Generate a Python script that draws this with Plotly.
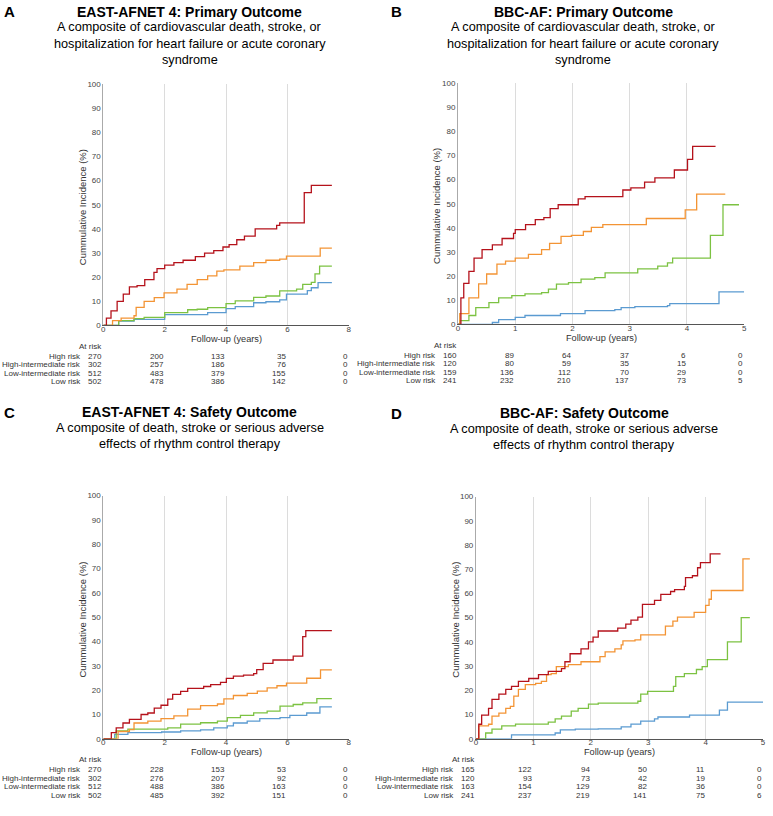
import plotly.graph_objects as go

W, H = 773, 816
FONT = "Liberation Sans, Arial, sans-serif"

RED, ORANGE, GREEN, BLUE = "#b5121b", "#f39434", "#7cc242", "#5b9bd1"

# ---------------- Panel A: EAST-AFNET 4 primary outcome ----------------
A_high_t = [0, 0.1, 0.25, 0.45, 0.65, 0.85, 1.1, 1.35, 1.65, 1.75, 2.0, 2.3, 2.6, 3.0, 3.3, 3.6, 3.9, 4.1, 4.35, 4.6, 4.95, 5.5, 5.65, 5.75, 6.5, 6.55, 6.72, 6.78, 7.45]
A_high_v = [0, 3, 6, 10, 13, 16, 16.5, 19, 22, 23.5, 25, 26, 27, 28.5, 30, 31, 32.5, 33.5, 35.5, 37, 40, 40, 41.5, 42.5, 42.5, 55, 55, 58, 58]
A_hi_t = [0, 0.3, 0.58, 1.0, 1.07, 1.33, 1.66, 1.98, 2.4, 2.73, 3.06, 3.4, 3.7, 3.93, 4.3, 4.45, 4.9, 5.3, 5.75, 5.97, 7.05, 7.07, 7.45]
A_hi_v = [0, 2, 3, 4, 7.5, 10, 11.5, 13.5, 15, 17, 19, 20.5, 22.5, 23, 23, 24.6, 26, 27, 27.5, 28.7, 28.7, 32, 32]
A_li_t = [0, 0.5, 1.0, 1.33, 2.0, 2.75, 3.06, 3.4, 4.0, 4.3, 4.9, 5.3, 5.75, 6.3, 6.5, 6.78, 6.9, 7.05, 7.45]
A_li_v = [0, 2, 2.8, 3.3, 5.3, 6.5, 6.7, 7.4, 9, 10.2, 11.6, 12.2, 14.3, 15, 17, 17.8, 21.4, 24.6, 24.6]
A_low_t = [0, 0.5, 1.0, 2.0, 3.4, 4.0, 4.3, 4.9, 5.3, 5.75, 5.97, 6.5, 6.65, 6.78, 7.0, 7.45]
A_low_v = [0, 1.8, 2.5, 4.5, 5.3, 7, 7.8, 9.4, 9.8, 10.6, 13, 13, 14.4, 15.6, 17.7, 17.7]

# ---------------- Panel B: BBC-AF primary outcome ----------------
B_high_t = [0, 0.05, 0.1, 0.19, 0.28, 0.42, 0.6, 0.77, 0.97, 1.0, 1.18, 1.35, 1.5, 1.61, 1.75, 1.93, 2.1, 2.22, 2.71, 2.88, 3.02, 3.26, 3.44, 3.75, 3.78, 3.87, 4.01, 4.1, 4.5]
B_high_v = [0, 11, 17, 22, 27.5, 31, 33, 35.6, 37.7, 39.3, 41.4, 43.4, 44.3, 48, 49.6, 49.6, 52, 53, 53, 55.7, 56.6, 59, 60.7, 60.7, 64, 64, 68.4, 73.8, 73.8]
B_hi_t = [0, 0.03, 0.19, 0.36, 0.5, 0.62, 0.68, 0.83, 1.0, 1.23, 1.46, 1.6, 1.8, 1.98, 2.12, 2.19, 2.33, 2.53, 3.26, 3.29, 3.89, 3.97, 4.13, 4.17, 4.67]
B_hi_v = [0, 4.5, 11, 16.8, 20.9, 20.9, 25, 26.2, 27.5, 29, 31, 33.6, 36.5, 36.9, 36.9, 38.5, 40.2, 41.4, 41.4, 43.9, 43.9, 47.5, 47.5, 54, 54]
B_li_t = [0, 0.03, 0.19, 0.31, 0.54, 0.71, 0.94, 1.17, 1.46, 1.58, 1.72, 1.93, 2.15, 2.39, 2.57, 3.02, 3.14, 3.44, 3.49, 3.66, 3.75, 4.32, 4.41, 4.58, 4.63, 4.91]
B_li_v = [0, 1.6, 3.7, 7, 9, 11, 11.9, 12.7, 13.2, 14.6, 16.7, 17.3, 18.8, 19.4, 21.4, 21.4, 23, 23, 24.2, 25.5, 27.5, 27.5, 36.9, 36.9, 49.6, 49.6]
B_low_t = [0, 0.6, 0.71, 1.0, 1.17, 1.69, 1.79, 2.15, 2.22, 2.74, 2.85, 3.09, 3.66, 3.7, 4.53, 4.56, 5.0]
B_low_v = [0, 0.8, 2, 2.9, 3.7, 3.7, 4.5, 4.5, 5.7, 6.1, 7, 7.4, 7.8, 8.6, 8.6, 13.5, 13.5]

# ---------------- Panel C: EAST-AFNET 4 safety outcome ----------------
C_high_t = [0, 0.26, 0.42, 0.64, 0.85, 1.1, 1.23, 1.45, 1.66, 1.88, 2.1, 2.26, 2.52, 2.75, 3.27, 3.5, 3.82, 4.01, 4.24, 4.57, 4.9, 5.0, 5.21, 5.53, 6.14, 6.19, 6.47, 6.5, 6.6, 7.45]
C_high_v = [0, 2.5, 4.5, 6.5, 8, 8, 10, 10.6, 12.6, 13.8, 16.3, 18.3, 19.5, 20.7, 21.5, 22.3, 23.2, 24.8, 25.8, 26.2, 26.8, 28.4, 31, 32.4, 32.4, 34, 34, 42, 44.5, 44.5]
C_hi_t = [0, 0.48, 0.85, 1.0, 1.45, 1.88, 2.3, 2.75, 3.17, 3.72, 3.93, 4.24, 4.69, 5.02, 5.34, 5.66, 5.97, 6.57, 6.63, 7.06, 7.08, 7.45]
C_hi_v = [0, 3, 3.8, 6.5, 7.3, 8.3, 9.4, 12.2, 13.6, 14.3, 16.4, 17.8, 18.7, 19.6, 20.9, 21.8, 22.9, 22.9, 24.9, 24.9, 28.3, 28.3]
C_li_t = [0, 0.42, 0.8, 1.88, 2.1, 2.52, 3.17, 3.72, 4.04, 4.47, 4.9, 5.34, 5.76, 6.19, 6.5, 6.95, 6.96, 7.45]
C_li_v = [0, 3.3, 4, 4, 4.5, 6, 6.6, 7.3, 8.7, 9.6, 10.7, 11.4, 13.4, 14.1, 14.8, 14.8, 16.5, 16.5]
C_low_t = [0, 0.37, 0.8, 1.9, 2.52, 3.17, 3.6, 4.04, 4.24, 4.69, 5.1, 5.76, 6.08, 6.57, 6.63, 7.0, 7.06, 7.45]
C_low_v = [0, 1.8, 2.5, 2.8, 3.3, 3.7, 4.5, 5.3, 6.5, 7.3, 8.3, 8.7, 9.6, 9.6, 10.6, 10.6, 13.1, 13.1]

# ---------------- Panel D: BBC-AF safety outcome ----------------
D_high_t = [0, 0.05, 0.1, 0.22, 0.28, 0.4, 0.52, 0.62, 0.74, 0.92, 1.09, 1.26, 1.49, 1.55, 1.64, 1.83, 1.96, 2.04, 2.13, 2.42, 2.47, 2.61, 2.7, 2.82, 2.9, 3.01, 3.11, 3.22, 3.39, 3.46, 3.63, 3.65, 3.77, 3.86, 3.91, 4.08, 4.26]
D_high_v = [0, 6, 9.8, 12.6, 16.3, 18.4, 20.4, 21.6, 23.7, 24.9, 26.5, 27.8, 29, 31.8, 35.1, 37.1, 40, 42, 44.5, 44.5, 45.7, 47.3, 49, 50.2, 55.5, 55.5, 57.1, 59.6, 60.8, 61.6, 62.9, 66.5, 67.3, 70.6, 72.7, 76.3, 76.3]
D_hi_t = [0, 0.05, 0.22, 0.28, 0.4, 0.52, 0.6, 0.66, 0.74, 0.86, 1.04, 1.14, 1.23, 1.31, 1.4, 1.61, 1.83, 2.03, 2.16, 2.25, 2.42, 2.53, 2.56, 2.77, 2.87, 3.22, 3.3, 3.39, 3.43, 3.51, 3.68, 3.8, 3.92, 4.0, 4.06, 4.1, 4.64, 4.65, 4.77]
D_hi_v = [0, 5.3, 6, 9.4, 10.6, 12.6, 13.4, 17.6, 20.4, 22.4, 22.9, 23.7, 26.5, 26.9, 29.8, 30.6, 31.8, 31.8, 33.9, 35.9, 37.1, 38.8, 40.4, 40.8, 42.9, 42.9, 46.5, 46.5, 48.6, 50.2, 50.2, 52.2, 52.2, 55.1, 57.6, 61.2, 61.2, 74.3, 74.3]
D_li_t = [0, 0.17, 0.28, 0.45, 0.69, 1.26, 1.38, 1.49, 1.66, 1.78, 1.96, 2.13, 2.73, 2.82, 2.87, 2.99, 3.39, 3.44, 3.48, 3.63, 3.82, 3.84, 3.94, 4.03, 4.33, 4.38, 4.58, 4.62, 4.77]
D_li_v = [0, 2.4, 4, 5.3, 6.1, 6.9, 8.2, 9.4, 11.4, 12.6, 14.3, 14.7, 14.7, 15.5, 18.4, 19.6, 19.6, 21.6, 25.7, 26.9, 26.9, 28.6, 29.8, 32.7, 32.7, 40, 40, 50, 50]
D_low_t = [0, 0.62, 1.38, 1.47, 1.73, 2.13, 2.53, 2.7, 2.87, 3.11, 3.17, 3.68, 3.72, 4.2, 4.24, 4.33, 4.38, 5.0]
D_low_v = [0, 1.6, 2.4, 3.7, 4, 4.1, 4.9, 6.1, 7.3, 8.2, 9, 9, 9.8, 9.8, 11.8, 11.8, 15.1, 15.1]

# ---------------- Numbers at risk ----------------
risk_labels = ["High risk", "High-intermediate risk", "Low-intermediate risk", "Low risk"]
A_risk_times = [0, 2, 4, 6, 8]
A_at_risk = [[270, 200, 133, 35, 0], [302, 257, 186, 76, 0], [512, 483, 379, 155, 0], [502, 478, 386, 142, 0]]
B_risk_times = [0, 1, 2, 3, 4, 5]
B_at_risk = [[160, 89, 64, 37, 6, 0], [120, 80, 59, 35, 15, 0], [159, 136, 112, 70, 29, 0], [241, 232, 210, 137, 73, 5]]
C_risk_times = [0, 2, 4, 6, 8]
C_at_risk = [[270, 228, 153, 53, 0], [302, 276, 207, 92, 0], [512, 488, 386, 163, 0], [502, 485, 392, 151, 0]]
D_risk_times = [0, 1, 2, 3, 4, 5]
D_at_risk = [[165, 122, 94, 50, 11, 0], [120, 93, 73, 42, 19, 0], [163, 154, 129, 82, 36, 0], [241, 237, 219, 141, 75, 6]]

titles = ["EAST-AFNET 4: Primary Outcome", "BBC-AF: Primary Outcome",
          "EAST-AFNET 4: Safety Outcome", "BBC-AF: Safety Outcome"]
subtitle_lines = [
    ["A composite of cardiovascular death, stroke, or", "hospitalization for heart failure or acute coronary", "syndrome"],
    ["A composite of cardiovascular death, stroke, or", "hospitalization for heart failure or acute coronary", "syndrome"],
    ["A composite of death, stroke or serious adverse", "effects of rhythm control therapy"],
    ["A composite of death, stroke or serious adverse", "effects of rhythm control therapy"],
]
letters = ["A", "B", "C", "D"]


def px(x):
    return x / W


def py(y):
    return 1 - y / H


panels = [
    dict(x=(102, 349), y=(81, 325), xmax=8, dtick=2, series=[(A_high_t, A_high_v), (A_hi_t, A_hi_v), (A_li_t, A_li_v), (A_low_t, A_low_v)],
         rt=A_risk_times, rk=A_at_risk, tcx=189, tcy=8, lx=8, ytx=81),
    dict(x=(459, 747), y=(80, 324), xmax=5, dtick=1, series=[(B_high_t, B_high_v), (B_hi_t, B_hi_v), (B_li_t, B_li_v), (B_low_t, B_low_v)],
         rt=B_risk_times, rk=B_at_risk, tcx=585, tcy=8, lx=397, ytx=438),
    dict(x=(102, 349), y=(497, 743), xmax=8, dtick=2, series=[(C_high_t, C_high_v), (C_hi_t, C_hi_v), (C_li_t, C_li_v), (C_low_t, C_low_v)],
         rt=C_risk_times, rk=C_at_risk, tcx=189, tcy=413, lx=8, ytx=81),
    dict(x=(477, 766), y=(498, 743), xmax=5, dtick=1, series=[(D_high_t, D_high_v), (D_hi_t, D_hi_v), (D_li_t, D_li_v), (D_low_t, D_low_v)],
         rt=D_risk_times, rk=D_at_risk, tcx=586, tcy=414, lx=397, ytx=457),
]
colors = [RED, ORANGE, GREEN, BLUE]
TXT = "#333"
TFS = 8

fig = go.Figure()
annotations = []
layout_axes = {}


def ann(text, x, y, size, xanchor="center", xref="paper", color="#000", **kw):
    d = dict(text=text, xref=xref, yref="paper", x=x, y=y, showarrow=False,
             xanchor=xanchor, yanchor="middle", font=dict(size=size, color=color, family=FONT))
    d.update(kw)
    annotations.append(d)


for i, p in enumerate(panels):
    n = i + 1
    xa = "x" if n == 1 else f"x{n}"
    ya = "y" if n == 1 else f"y{n}"
    xkey = "xaxis" if n == 1 else f"xaxis{n}"
    ykey = "yaxis" if n == 1 else f"yaxis{n}"
    for (t, v), c in reversed(list(zip(p["series"], colors))):
        fig.add_trace(go.Scatter(x=t, y=v, mode="lines", line=dict(color=c, width=1.3, shape="hv"),
                                 xaxis=xa, yaxis=ya, showlegend=False, hoverinfo="skip"))
    x0, x1 = p["x"]
    yt, yb = p["y"]
    layout_axes[xkey] = dict(domain=[px(x0), px(x1)], range=[0, p["xmax"]], dtick=p["dtick"], tick0=0,
                             anchor=ya, showgrid=True, gridcolor="#dcdcdc", gridwidth=1,
                             showline=True, linecolor="#555", linewidth=1, zeroline=False,
                             ticks="", ticklabelstandoff=-4,
                             tickfont=dict(size=8, color="#444", family=FONT))
    layout_axes[ykey] = dict(domain=[py(yb), py(yt)], range=[0, 100], dtick=10, anchor=xa,
                             showgrid=False, showline=True, linecolor="#aaa", linewidth=1, zeroline=False,
                             ticks="", tickfont=dict(size=8, color="#444", family=FONT))
    # axis titles
    ann("Cummulative Incidence (%)", px(p["ytx"]), py((yt + yb) / 2 + 2), 9.5, color=TXT, textangle=-90)
    ann("Follow-up (years)", px((x0 + x1) / 2), py(yb + 13.5), 9.2, color=TXT)
    # letters and titles
    ann(f"<b>{letters[i]}</b>", px(p["lx"]), py(p["tcy"]), 15)
    ann(f"<b>{titles[i]}</b>", px(p["tcx"]), py(p["tcy"]), 14)
    for k, line in enumerate(subtitle_lines[i]):
        ann(line, px(p["tcx"]), py(p["tcy"] + 15.5 + k * 16.5), 12.7)
    # at risk table
    base = yb + 21
    ann("At risk", px(x0 + 1), py(base), TFS, xanchor="right", color=TXT)
    for r, lab in enumerate(risk_labels):
        yy = py(base + 10 + r * 8.7)
        ann(lab, px(x0 - 20), yy, TFS, xanchor="right", color=TXT)
        for tt, val in zip(p["rt"], p["rk"][r]):
            ann(str(val), tt, yy, TFS, xanchor="right", xref=xa, color=TXT, xshift=1)

fig.update_layout(width=W, height=H, margin=dict(l=0, r=0, t=0, b=0),
                  paper_bgcolor="white", plot_bgcolor="white",
                  font=dict(family=FONT), annotations=annotations, **layout_axes)

fig.write_html("out.html")
